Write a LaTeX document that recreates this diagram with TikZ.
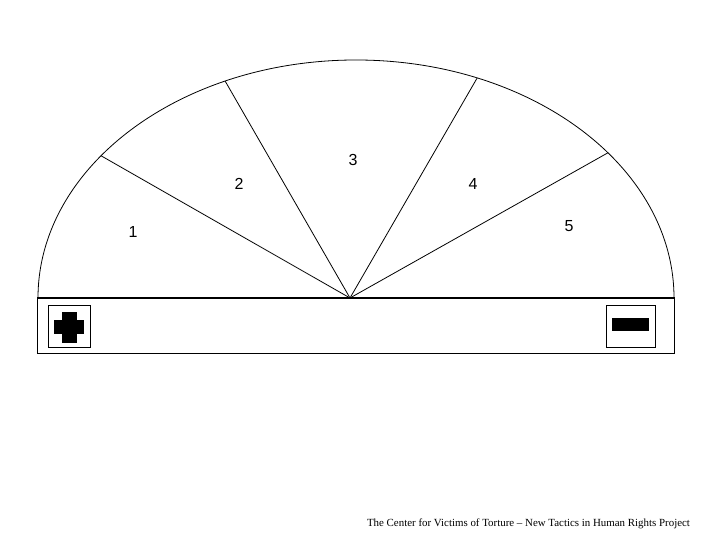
\documentclass[tikz,border=0pt]{standalone}
\usepackage{fontspec}
\setmainfont{Liberation Serif}
\newfontfamily\digitfont{Liberation Sans}
\usetikzlibrary{calc}
\tikzset{
	num/.style={font=\digitfont\fontsize{16}{18}\selectfont, inner sep=0pt},
	ray/.style={line width=0.8pt},
	iconbox/.style={draw, line width=0.8pt}
}
\begin{document}
\begin{tikzpicture}[x=1pt, y=1pt]
		\useasboundingbox (0,0) rectangle (720,540);

		\coordinate (c) at (356,242);
		\coordinate (hub) at (350,242);
		\coordinate (l) at (38,242);
		\coordinate (r) at (674,242);

		% the dial
		\draw[line width=0.8pt] (l) arc[start angle=180, end angle=0, x radius=318, y radius=238];
		\coordinate (p1) at ($(c)+(143.3:318 and 238)$);
		\coordinate (p2) at ($(c)+(114.3:318 and 238)$);
		\coordinate (p3) at ($(c)+(67.6:318 and 238)$);
		\coordinate (p4) at ($(c)+(37.6:318 and 238)$);
		\foreach \p in {p1,p2,p3,p4}
			\draw[ray] (hub) -- (\p);

		\node[num] (n1) at (133,308) {1};
		\node[num] (n2) at (239,356) {2};
		\node[num] (n3) at (353,380) {3};
		\node[num] (n4) at (473,356) {4};
		\node[num] (n5) at (569,314) {5};

		% the bar below
		\draw[line width=0.8pt] (37,187) rectangle (674,242);
		\draw[line width=2.8pt] (37,242) -- (675,242);

		\draw[iconbox] (48,193) rectangle (90,235);
		\fill (62,197) rectangle (77,228);
		\fill (54,206) rectangle (84,220);

		\draw[iconbox] (606,193) rectangle (655,235);
		\fill (612,209) rectangle (649,222);

		\node[font=\fontsize{10.9}{13}\selectfont, inner sep=0pt] (credit) at (528.5,16) {The Center for Victims of Torture -- New Tactics in Human Rights Project};
	\end{tikzpicture}
\end{document}
